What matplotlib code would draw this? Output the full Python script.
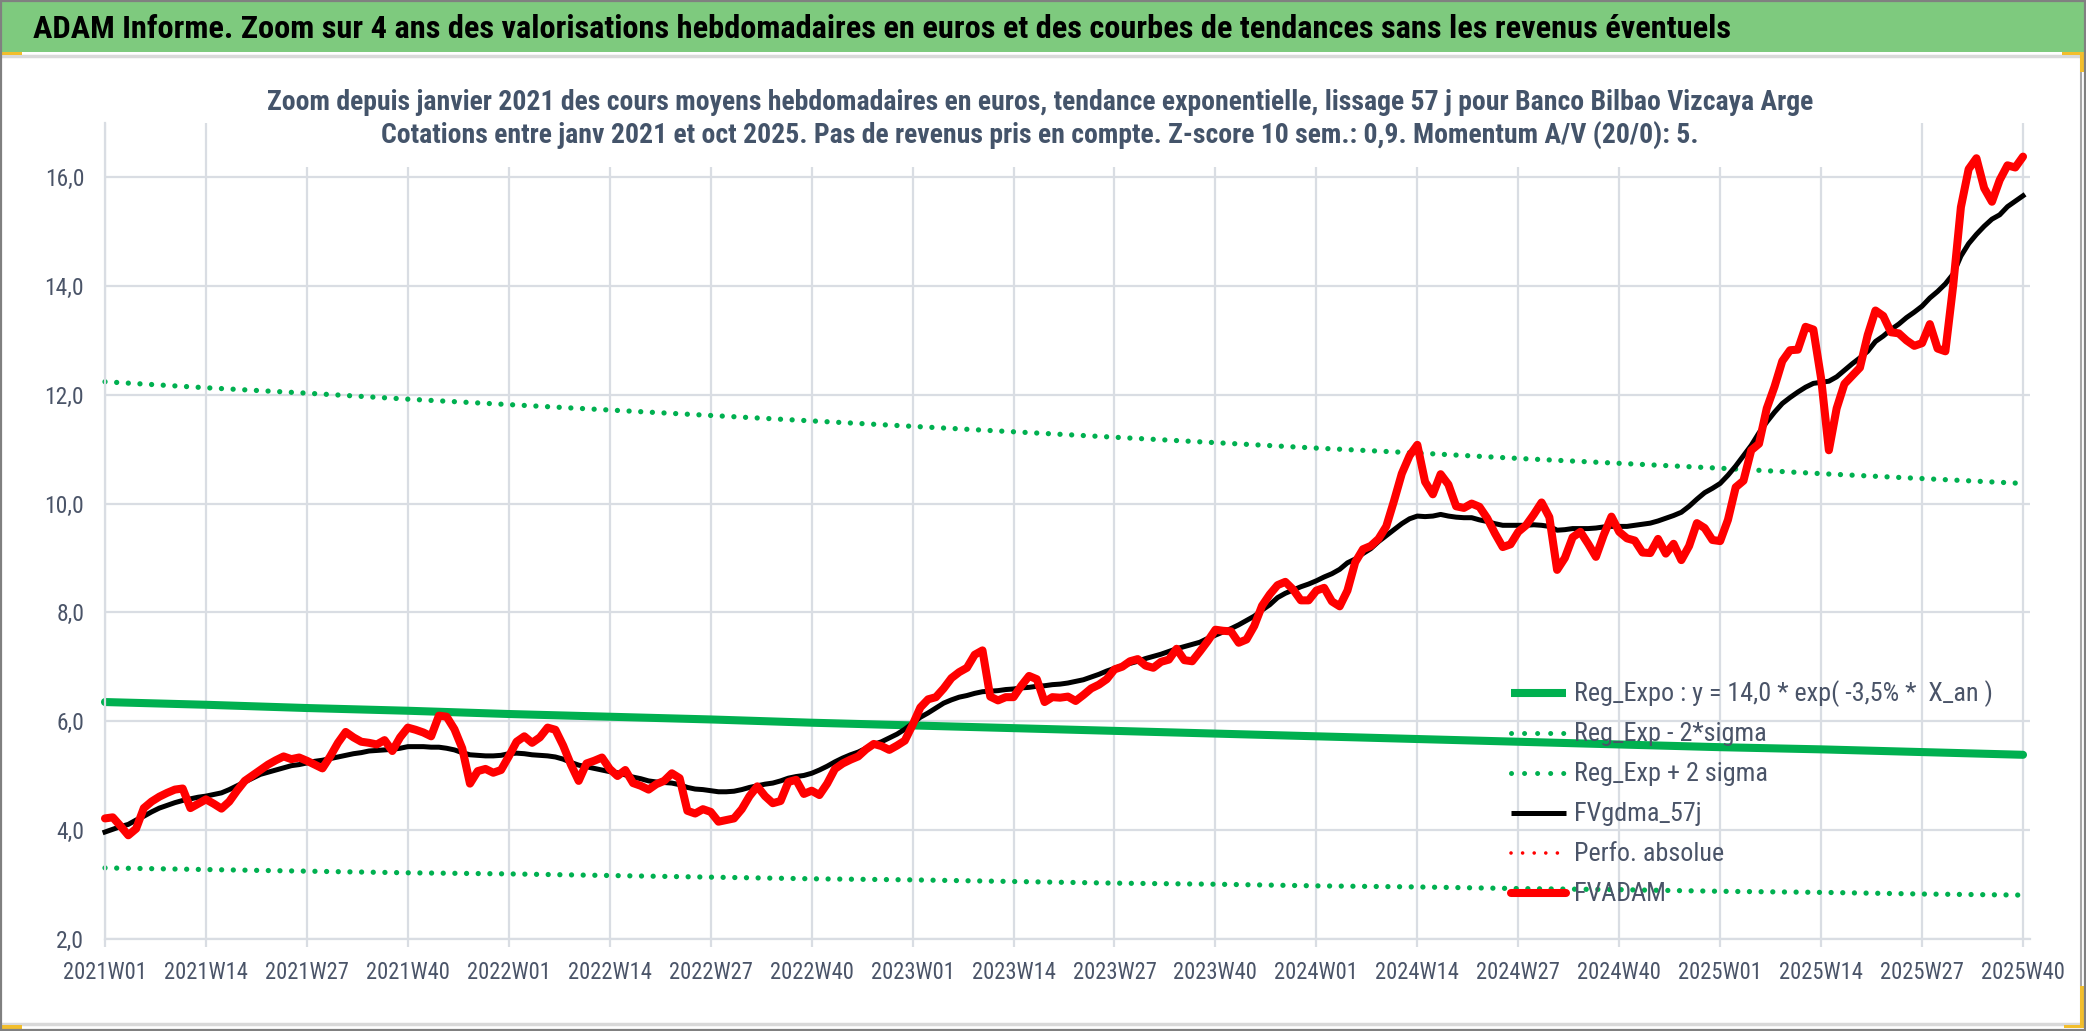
import matplotlib
matplotlib.use("Agg")
import matplotlib.pyplot as plt
from matplotlib import font_manager
from matplotlib.lines import Line2D
from matplotlib.patches import Rectangle
from matplotlib.ticker import FuncFormatter

# ---- data (weekly, 2021W01 .. 2025W40) ----
weeks = [f"{y}W{w:02d}" for y in range(2021, 2026) for w in range(1, 53)][:248]

fv_adam = [
    4.21, 4.23, 4.07, 3.90, 4.02, 4.40, 4.52, 4.61, 4.68, 4.74,
    4.76, 4.40, 4.48, 4.56, 4.48, 4.39, 4.52, 4.72, 4.90, 5.00,
    5.10, 5.20, 5.28, 5.35, 5.30, 5.33, 5.27, 5.20, 5.13, 5.35,
    5.60, 5.80, 5.70, 5.62, 5.60, 5.57, 5.65, 5.45, 5.70, 5.88,
    5.84, 5.79, 5.72, 6.10, 6.08, 5.85, 5.50, 4.85, 5.08, 5.12,
    5.05, 5.10, 5.35, 5.62, 5.72, 5.60, 5.70, 5.88, 5.84, 5.55,
    5.20, 4.90, 5.22, 5.27, 5.33, 5.12, 4.99, 5.10, 4.86, 4.81,
    4.74, 4.84, 4.90, 5.04, 4.95, 4.35, 4.30, 4.38, 4.33, 4.15,
    4.18, 4.21, 4.38, 4.62, 4.80, 4.62, 4.49, 4.53, 4.88, 4.92,
    4.66, 4.72, 4.64, 4.85, 5.12, 5.22, 5.29, 5.35, 5.48, 5.58,
    5.54, 5.47, 5.55, 5.64, 5.93, 6.25, 6.40, 6.44, 6.60, 6.79,
    6.90, 6.98, 7.22, 7.30, 6.45, 6.38, 6.44, 6.44, 6.65, 6.83,
    6.77, 6.35, 6.44, 6.43, 6.45, 6.37, 6.48, 6.60, 6.67, 6.77,
    6.95, 7.00, 7.10, 7.14, 7.02, 6.98, 7.09, 7.13, 7.33, 7.12,
    7.10, 7.28, 7.47, 7.68, 7.66, 7.65, 7.44, 7.50, 7.75, 8.12,
    8.33, 8.50, 8.56, 8.42, 8.22, 8.22, 8.40, 8.45, 8.20, 8.11,
    8.40, 8.92, 9.16, 9.22, 9.35, 9.58, 10.05, 10.55, 10.88, 11.08,
    10.40, 10.17, 10.54, 10.35, 9.95, 9.92, 10.00, 9.94, 9.73, 9.45,
    9.20, 9.25, 9.48, 9.60, 9.80, 10.02, 9.75, 8.78, 9.00, 9.38,
    9.48, 9.26, 9.02, 9.42, 9.76, 9.48, 9.36, 9.32, 9.10, 9.09,
    9.35, 9.08, 9.26, 8.96, 9.22, 9.64, 9.55, 9.33, 9.31, 9.70,
    10.30, 10.42, 10.98, 11.10, 11.75, 12.15, 12.62, 12.82, 12.83, 13.25,
    13.20, 12.30, 10.98, 11.75, 12.20, 12.35, 12.50, 13.10, 13.55, 13.45,
    13.15, 13.13, 13.00, 12.90, 12.95, 13.30, 12.85, 12.80, 14.00, 15.45,
    16.15, 16.35, 15.80, 15.55, 15.95, 16.22, 16.18, 16.38,
]

fv_gdma_57j = [
    3.96, 4.01, 4.06, 4.10, 4.18, 4.25, 4.33, 4.40, 4.45, 4.50,
    4.54, 4.57, 4.60, 4.62, 4.65, 4.68, 4.74, 4.81, 4.88, 4.95,
    5.02, 5.06, 5.10, 5.14, 5.18, 5.20, 5.23, 5.26, 5.28, 5.31,
    5.34, 5.37, 5.40, 5.42, 5.45, 5.46, 5.47, 5.48, 5.50, 5.53,
    5.53, 5.53, 5.52, 5.52, 5.50, 5.47, 5.42, 5.38, 5.37, 5.36,
    5.36, 5.37, 5.40, 5.41, 5.40, 5.38, 5.37, 5.36, 5.34, 5.30,
    5.24, 5.19, 5.16, 5.13, 5.10, 5.07, 5.05, 5.01, 4.97, 4.94,
    4.90, 4.88, 4.87, 4.86, 4.83, 4.78, 4.75, 4.74, 4.72, 4.70,
    4.70, 4.71, 4.74, 4.78, 4.81, 4.84, 4.86, 4.90, 4.95, 4.98,
    5.00, 5.04, 5.10, 5.17, 5.25, 5.32, 5.38, 5.43, 5.50, 5.57,
    5.62, 5.69, 5.76, 5.85, 5.96, 6.07, 6.15, 6.24, 6.33, 6.39,
    6.44, 6.47, 6.51, 6.54, 6.55, 6.56, 6.58, 6.59, 6.61, 6.62,
    6.64, 6.65, 6.67, 6.68, 6.70, 6.73, 6.76, 6.81, 6.86, 6.92,
    6.97, 7.02, 7.06, 7.10, 7.15, 7.19, 7.23, 7.28, 7.33, 7.37,
    7.41, 7.45, 7.52, 7.58, 7.64, 7.70, 7.77, 7.85, 7.93, 8.04,
    8.14, 8.27, 8.35, 8.41, 8.47, 8.52, 8.58, 8.65, 8.71, 8.79,
    8.91, 8.98, 9.08, 9.17, 9.30, 9.41, 9.52, 9.63, 9.72, 9.77,
    9.76, 9.77, 9.80, 9.77, 9.75, 9.74, 9.74, 9.70, 9.67, 9.63,
    9.60, 9.60, 9.60, 9.60, 9.61, 9.60, 9.58, 9.51, 9.52, 9.54,
    9.54, 9.54, 9.55, 9.57, 9.58, 9.58, 9.58, 9.60, 9.62, 9.64,
    9.68, 9.73, 9.78, 9.84, 9.95, 10.08, 10.20, 10.28, 10.37, 10.52,
    10.69, 10.88, 11.07, 11.30, 11.50, 11.68, 11.84, 11.95, 12.05, 12.14,
    12.21, 12.23, 12.25, 12.33, 12.45, 12.57, 12.68, 12.80, 12.98, 13.08,
    13.20, 13.30, 13.42, 13.52, 13.63, 13.78, 13.90, 14.04, 14.22, 14.55,
    14.78, 14.95, 15.10, 15.23, 15.31, 15.46, 15.56, 15.66,
]

# trend curves, read every 13 weeks (at the labelled weeks)
trend_pos = list(range(0, 248, 13))
reg_expo = [6.35, 6.30, 6.24, 6.19, 6.13, 6.08, 6.03, 5.97, 5.92, 5.87,
            5.82, 5.77, 5.72, 5.67, 5.62, 5.57, 5.52, 5.48, 5.43, 5.38]
reg_minus = [3.30, 3.27, 3.24, 3.21, 3.19, 3.16, 3.13, 3.10, 3.08, 3.05,
             3.02, 3.00, 2.97, 2.95, 2.92, 2.90, 2.87, 2.85, 2.82, 2.80]
reg_plus = [12.24, 12.13, 12.03, 11.92, 11.82, 11.72, 11.62, 11.52, 11.42, 11.32,
            11.22, 11.12, 11.02, 10.93, 10.83, 10.74, 10.65, 10.55, 10.46, 10.37]

TITLE = ("ADAM Informe. Zoom sur 4 ans des valorisations hebdomadaires en euros "
         "et des courbes de tendances sans les revenus éventuels")
SUB1 = ("Zoom depuis janvier 2021 des cours moyens hebdomadaires en euros, tendance "
        "exponentielle, lissage 57 j pour Banco Bilbao Vizcaya Arge")
SUB2 = ("Cotations entre janv 2021 et oct 2025. Pas de revenus pris en compte. "
        "Z-score 10 sem.: 0,9. Momentum A/V (20/0): 5.")

# ---- styling ----
names = {f.name for f in font_manager.fontManager.ttflist}
FONT = "Lato"
for cand in ("Liberation Sans Narrow", "Roboto Condensed", "Noto Sans Condensed",
             "Open Sans Condensed", "Lato"):
    if cand in names:
        FONT = cand
        break
plt.rcParams["font.family"] = [FONT, "DejaVu Sans"]

W, H = 2086, 1031
GREEN = "#00B050"
RED = "#FF0000"
GRID = "#D9DDE3"
TXT = "#4A5468"
DOT = (0, (0.01, 2.2))


def fx(x):
    return x / W


def fy(y):
    return 1 - y / H


def fit_width(fig, txt, target_px):
    r = fig.canvas.get_renderer()
    w = txt.get_window_extent(r).width
    txt.set_fontsize(txt.get_fontsize() * target_px / w)
    return txt.get_fontsize()


fig = plt.figure(figsize=(W / 100, H / 100), dpi=100)

# tick label size: "2021W01" is about 78 px wide in the reference (a bit taller there)
probe = fig.text(0, 0, "2021W01", fontsize=16)
tick_fs = fit_width(fig, probe, 84)
probe.remove()

# axes: week 0 at x=105 px, 2.0 at y=938.6 px, 17 at y=122.9 px
ax = fig.add_axes([fx(105), fy(938.6), fx(2030) - fx(105), (938.6 - 122.9) / H])
x = list(range(len(weeks)))

ax.plot(trend_pos, reg_expo, color=GREEN, lw=5.8, solid_capstyle="round", zorder=2, clip_on=False)
ax.plot(trend_pos, reg_minus, color=GREEN, lw=3.8, linestyle=DOT, dash_capstyle="round", zorder=2, clip_on=False)
ax.plot(trend_pos, reg_plus, color=GREEN, lw=3.8, linestyle=DOT, dash_capstyle="round", zorder=2, clip_on=False)
ax.plot(x, fv_gdma_57j, color="black", lw=3.6, solid_joinstyle="round", zorder=4, clip_on=False)
ax.plot(x, fv_adam, color=RED, lw=5.8, solid_joinstyle="round", solid_capstyle="round", zorder=5, clip_on=False)

ax.set_xlim(0, 247.9)
ax.set_ylim(2, 17)
ax.set_xticks(trend_pos)
ax.set_xticklabels([weeks[i] for i in trend_pos])
ax.set_yticks(range(2, 17, 2))
ax.yaxis.set_major_formatter(FuncFormatter(lambda v, p: f"{v:.1f}".replace(".", ",")))
ax.grid(True, color=GRID, lw=1.6)
ax.set_axisbelow(True)
for side in ("top", "right"):
    ax.spines[side].set_visible(False)
for side in ("left", "bottom"):
    ax.spines[side].set_color(GRID)
    ax.spines[side].set_linewidth(1.6)
ax.tick_params(axis="x", length=5.8, width=1.6, color=GRID, pad=10, labelsize=tick_fs, labelcolor=TXT)
ax.tick_params(axis="y", length=0, pad=15, labelsize=tick_fs * 1.04, labelcolor=TXT)

# ---- frame and title bar ----
fig.add_artist(Rectangle((0, fy(52)), 1, 50 / H, transform=fig.transFigure,
                         facecolor="#7ECA7E", edgecolor="none", zorder=1))
fig.add_artist(Line2D([0, fx(2080)], [fy(56), fy(56)], transform=fig.transFigure,
                      color="#D9D9D9", lw=2.5, zorder=1))
fig.add_artist(Line2D([0, fx(2080)], [fy(1024), fy(1024)], transform=fig.transFigure,
                      color="#D9D9D9", lw=2.5, zorder=1))
fig.add_artist(Line2D([fx(2081), fx(2081)], [fy(56), fy(1026)], transform=fig.transFigure,
                      color="#A6A6A6", lw=1.5, zorder=1))
for (x0, y0, x1, y1) in [(2062, 52, 2086, 55), (2080, 52, 2085, 72),
                         (2080, 986, 2085, 1028), (2064, 1025, 2085, 1028),
                         (0, 52, 22, 55), (0, 1025, 22, 1029)]:
    fig.add_artist(Rectangle((fx(x0), fy(y1)), fx(x1) - fx(x0), (y1 - y0) / H,
                             transform=fig.transFigure, facecolor="#F2BE2C",
                             edgecolor="none", zorder=2))
fig.add_artist(Rectangle((0.0005, 0.001), 0.999, 0.998, transform=fig.transFigure,
                         facecolor="none", edgecolor="#808080", lw=1.6, zorder=3))

t = fig.text(fx(33), fy(29), TITLE, fontweight="bold", fontsize=22, color="black",
             va="center", ha="left", zorder=4)
fit_width(fig, t, 1696)

# white title box hiding the gridlines behind the chart title
fig.add_artist(Rectangle((fx(250), fy(167)), fx(1830) - fx(250), (167 - 62) / H,
                         transform=fig.transFigure, facecolor="white", edgecolor="none", zorder=1))
s1 = fig.text(fx(1040), fy(102), SUB1, fontsize=20, fontweight="semibold", color="#44546A",
              va="center", ha="center", zorder=4)
fs = fit_width(fig, s1, 1548)
fig.text(fx(1040), fy(135), SUB2, fontsize=fs, fontweight="semibold", color="#44546A",
         va="center", ha="center", zorder=4)

# ---- legend (drawn by hand to match the Excel layout) ----
legend_rows = [
    ("Reg_Expo : y = 14,0 * exp( -3,5% *  X_an )", dict(color=GREEN, lw=5.8, solid_capstyle="butt")),
    ("Reg_Exp - 2*sigma", dict(color=GREEN, lw=3.6, linestyle=(0, (0.01, 2.6)), dash_capstyle="round")),
    ("Reg_Exp + 2 sigma", dict(color=GREEN, lw=3.6, linestyle=(0, (0.01, 2.6)), dash_capstyle="round")),
    ("FVgdma_57j", dict(color="black", lw=3.6, solid_capstyle="butt")),
    ("Perfo. absolue", dict(color=RED, lw=2.6, linestyle=(0, (0.01, 3.2)), dash_capstyle="round")),
    ("FVADAM", dict(color=RED, lw=5.8, solid_capstyle="round")),
]
leg_fs = None
for k, (label, style) in enumerate(legend_rows):
    yy = 693 + 40 * k
    fig.add_artist(Line2D([fx(1511), fx(1566)], [fy(yy), fy(yy)], transform=fig.transFigure,
                          zorder=6, **style))
    txt = fig.text(fx(1574), fy(yy + 1), label, fontsize=leg_fs or 17, color=TXT,
                   va="center", ha="left", zorder=6)
    if leg_fs is None:
        leg_fs = fit_width(fig, txt, 418)

fig.savefig("out.png", dpi=100)
